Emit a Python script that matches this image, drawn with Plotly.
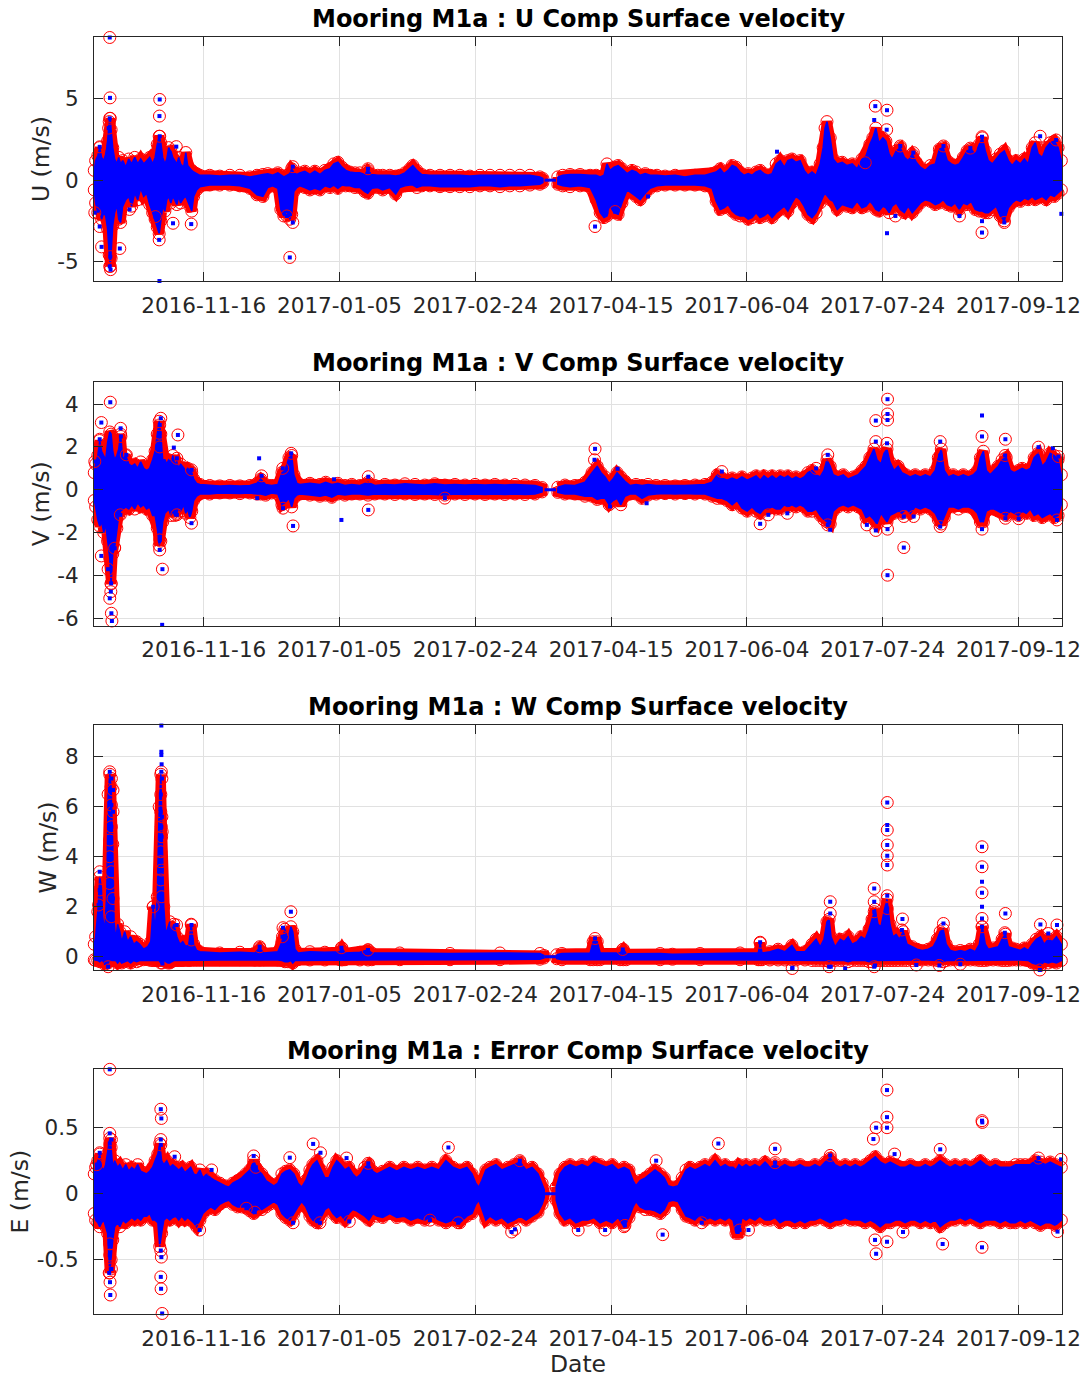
import pandas as pd
import plotly.graph_objects as go
from plotly.subplots import make_subplots

# ---------------------------------------------------------------------------
# Mooring M1a surface-bin ADCP velocities.
# Times are days elapsed since the start of the record.
# Each band row is (day, upper edge, lower edge) of the dense data cloud;
# isolated samples are listed separately (flagged ones are ringed in red).
# ---------------------------------------------------------------------------
record_start = pd.Timestamp("2016-10-06 14:00")
record_days = 356.45
record_gap = (165.9, 170.1)          # short stretch with no profiles

date_ticks = ["2016-11-16", "2017-01-05", "2017-02-24", "2017-04-15",
              "2017-06-04", "2017-07-24", "2017-09-12"]

u_band = [
    (0.1, 0.6, -0.6), (0.6, 1.2, -1.4), (1.4, 1.5, -2.0), (2.1, 2.0, -1.8),
    (2.8, 1.4, -2.4), (3.6, 1.2, -2.0), (4.3, 1.6, -2.2), (5.0, 2.4, -3.0),
    (5.6, 3.6, -4.6), (6.0, 3.8, -5.3), (6.3, 3.1, -4.8), (6.9, 2.0, -2.8),
    (7.6, 1.3, -2.0), (8.4, 1.0, -1.5), (9.1, 1.4, -2.4), (9.8, 1.0, -2.6),
    (10.6, 1.2, -1.6), (11.7, 0.8, -1.2), (12.8, 1.3, -1.0), (13.9, 1.0, -1.6),
    (15.0, 1.4, -0.8), (16.1, 1.0, -1.2), (17.2, 1.3, -0.5), (18.3, 1.0, -1.0),
    (19.4, 1.2, -0.8), (20.5, 1.4, -1.5), (21.6, 1.0, -2.0), (22.5, 1.4, -2.4),
    (23.3, 2.2, -2.9), (24.0, 2.7, -3.3), (24.6, 2.3, -2.5), (25.3, 1.4, -1.6),
    (26.1, 1.0, -1.9), (26.8, 1.3, -1.2), (27.5, 2.0, -1.0), (28.3, 1.8, -1.4),
    (29.0, 1.4, -1.0), (29.7, 1.2, -1.2), (30.5, 1.0, -1.5), (31.2, 1.4, -1.0),
    (31.9, 1.0, -1.4), (33.0, 0.8, -1.1), (33.8, 1.7, -1.0), (34.5, 0.9, -1.3),
    (35.3, 0.7, -1.6), (36.0, 0.6, -1.9), (36.7, 0.5, -1.0), (37.8, 0.4, -0.6),
    (39.0, 0.3, -0.4), (42.6, 0.3, -0.3), (46.3, 0.25, -0.3), (50.0, 0.3, -0.3),
    (53.7, 0.3, -0.35), (57.4, 0.2, -0.5), (60.0, 0.3, -0.9), (62.2, 0.35, -1.0),
    (64.0, 0.4, -0.45), (65.8, 0.3, -0.35), (67.7, 0.45, -0.5), (68.8, 0.3, -1.8),
    (69.9, 0.2, -2.2), (71.0, 0.3, -1.9), (72.1, 0.4, -2.4), (72.8, 0.7, -2.1),
    (73.6, 0.45, -0.7), (74.7, 0.35, -0.45), (75.8, 0.45, -0.35), (77.6, 0.55, -0.45),
    (79.5, 0.35, -0.6), (81.3, 0.55, -0.5), (83.2, 0.35, -0.6), (85.0, 0.6, -0.35),
    (86.9, 0.7, -0.45), (88.3, 1.0, -0.3), (89.8, 1.1, -0.5), (91.3, 0.8, -0.3),
    (92.7, 0.6, -0.35), (94.2, 0.5, -0.35), (96.1, 0.45, -0.45), (97.9, 0.45, -0.45),
    (99.7, 0.35, -0.7), (100.8, 0.6, -0.8), (102.3, 0.35, -0.5), (104.5, 0.3, -0.45),
    (106.3, 0.3, -0.6), (108.9, 0.3, -0.45), (111.1, 0.25, -0.85), (112.6, 0.3, -0.45),
    (114.5, 0.45, -0.35), (116.3, 0.7, -0.3), (117.4, 0.9, -0.3), (118.9, 0.6, -0.45),
    (120.7, 0.35, -0.35), (123.7, 0.3, -0.35), (127.4, 0.3, -0.4), (131.1, 0.3, -0.4),
    (134.7, 0.3, -0.4), (138.4, 0.25, -0.4), (142.1, 0.3, -0.35), (145.8, 0.3, -0.35),
    (149.5, 0.3, -0.4), (153.1, 0.3, -0.35), (156.8, 0.3, -0.35), (160.5, 0.3, -0.3),
    (164.2, 0.2, -0.25), (165.3, 0.1, -0.15),
    (170.8, 0.2, -0.25), (172.6, 0.3, -0.35), (175.3, 0.35, -0.4), (179.0, 0.35, -0.35),
    (182.7, 0.3, -0.45), (184.9, 0.3, -1.2), (186.4, 0.2, -2.0), (187.8, 0.3, -2.3),
    (188.9, 1.0, -2.2), (190.0, 0.6, -1.6), (191.5, 0.8, -2.0), (193.0, 0.9, -2.1),
    (194.4, 0.7, -1.4), (196.3, 0.4, -0.6), (198.1, 0.6, -0.8), (199.6, 0.5, -1.0),
    (201.1, 0.3, -1.2), (203.0, 0.4, -0.8), (204.8, 0.3, -0.5), (207.3, 0.3, -0.35),
    (210.3, 0.25, -0.3), (214.0, 0.3, -0.3), (217.6, 0.2, -0.3), (221.3, 0.3, -0.3),
    (225.0, 0.3, -0.35), (227.6, 0.4, -0.5), (229.1, 0.5, -1.3), (230.6, 0.7, -1.8),
    (232.0, 0.4, -1.7), (233.5, 0.6, -1.5), (235.0, 0.9, -1.9), (236.4, 0.8, -2.1),
    (237.9, 0.5, -2.2), (239.4, 0.3, -2.2), (240.9, 0.4, -2.4), (242.3, 0.3, -2.3),
    (243.8, 0.5, -2.0), (245.3, 0.6, -2.3), (246.7, 0.4, -2.2), (248.2, 0.3, -2.0),
    (249.7, 0.4, -2.3), (251.2, 1.0, -2.0), (252.7, 1.2, -1.8), (254.2, 0.8, -1.6),
    (255.5, 1.2, -1.9), (257.0, 1.3, -1.4), (258.5, 1.1, -1.0), (260.0, 1.2, -1.2),
    (261.5, 0.6, -1.6), (262.9, 0.3, -2.1), (264.4, 0.5, -2.3), (265.9, 0.3, -2.0),
    (267.4, 1.0, -1.4), (268.5, 2.0, -1.0), (269.2, 3.2, -0.8), (269.9, 3.6, -0.9),
    (271.1, 2.6, -1.2), (272.2, 1.3, -1.3), (273.7, 1.0, -1.8), (275.5, 1.1, -1.5),
    (277.3, 0.9, -1.6), (279.2, 1.0, -1.7), (281.0, 0.7, -1.3), (282.8, 1.3, -1.7),
    (284.3, 1.5, -1.6), (285.7, 2.2, -1.3), (286.8, 2.6, -1.5), (287.9, 3.2, -1.8),
    (289.0, 2.3, -1.9), (290.5, 2.6, -1.6), (291.6, 2.4, -1.7), (292.8, 1.6, -2.0),
    (293.9, 1.3, -1.6), (295.4, 1.8, -1.4), (296.9, 2.0, -1.8), (298.4, 1.4, -2.0),
    (299.8, 1.2, -1.6), (301.3, 1.6, -2.0), (302.8, 1.1, -1.7), (304.3, 0.8, -1.4),
    (306.1, 0.6, -1.2), (308.0, 0.9, -1.3), (309.8, 1.0, -1.5), (311.3, 1.9, -1.4),
    (312.7, 2.0, -1.2), (314.2, 1.2, -1.5), (315.7, 1.0, -1.6), (317.1, 0.9, -1.4),
    (318.6, 1.0, -1.8), (320.1, 1.4, -1.4), (321.5, 1.8, -1.5), (323.0, 1.9, -1.3),
    (324.5, 1.6, -1.8), (326.0, 2.2, -1.9), (327.1, 2.6, -1.9), (328.2, 1.8, -2.0),
    (329.3, 1.2, -2.0), (330.8, 1.0, -1.8), (332.2, 1.3, -1.6), (333.7, 1.6, -2.2),
    (335.2, 1.8, -2.5), (336.7, 1.2, -1.7), (338.1, 0.9, -1.4), (339.6, 1.2, -1.2),
    (341.1, 1.0, -1.3), (342.6, 1.3, -1.1), (344.0, 1.0, -1.2), (345.5, 2.0, -1.0),
    (346.6, 2.3, -1.2), (347.7, 1.6, -1.1), (349.2, 1.4, -1.0), (350.6, 2.0, -1.2),
    (352.1, 2.3, -0.9), (353.6, 2.4, -1.0), (355.0, 2.0, -0.8), (356.2, 1.2, -0.6),
]
u_flagged = [
    (5.8, 8.77), (5.9, 5.06), (5.8, 3.8), (5.4, 3.2), (2.1, 2.05), (0.3, -2.0),
    (2.1, -2.85), (2.8, -4.1), (5.8, -5.3), (6.0, -4.7), (6.1, -5.5), (9.5, -4.2),
    (24.2, 4.96), (24.1, 3.94), (24.2, 2.7), (24.0, -3.67), (22.6, -2.24),
    (29.1, -2.65), (30.3, 2.06), (35.8, -2.7), (13.1, -1.8), (72.1, -4.75),
    (73.2, 0.83), (73.2, -2.6), (71.0, -2.2), (100.9, 0.7), (184.5, -2.85),
    (191.9, -1.93), (287.7, 4.55), (292.0, 4.3), (291.9, 3.1), (284.0, 1.07),
    (296.9, 2.1), (301.7, 1.69), (295.1, -2.2), (312.8, 2.1), (318.7, -2.2),
    (322.7, 1.97), (327.0, 2.67), (327.0, -3.22), (335.2, -2.6), (348.4, 2.7),
    (354.3, 2.47),
]
u_unflagged = [
    (24.1, -6.2), (251.5, 1.75), (292.0, -3.26), (287.3, 3.7), (327.0, -2.52),
    (356.2, -2.07), (204.0, -1.0),
]

v_band = [
    (0.1, 0.8, -0.5), (0.6, 1.2, -0.8), (1.4, 1.6, -1.4), (2.1, 2.3, -1.7),
    (2.8, 1.8, -1.5), (3.6, 1.6, -2.0), (4.3, 1.4, -1.6), (5.0, 2.2, -2.4),
    (5.8, 2.7, -3.2), (6.3, 2.6, -4.4), (6.9, 1.8, -3.0), (7.6, 1.4, -2.7),
    (8.4, 1.6, -1.8), (9.1, 1.9, -1.2), (9.8, 2.6, -1.0), (10.6, 1.4, -0.9),
    (11.7, 1.6, -0.8), (12.8, 1.2, -0.9), (13.9, 1.1, -0.7), (15.0, 1.2, -0.9),
    (16.1, 1.0, -0.6), (17.2, 1.3, -0.8), (18.3, 1.0, -0.7), (19.4, 0.9, -0.9),
    (20.5, 1.0, -0.8), (21.6, 1.4, -1.2), (22.5, 1.8, -1.2), (23.3, 2.6, -1.8),
    (24.0, 3.2, -2.6), (24.6, 2.6, -2.4), (25.3, 1.4, -1.5), (26.1, 1.4, -1.1),
    (26.8, 1.2, -1.0), (27.5, 1.4, -0.9), (28.3, 1.3, -1.2), (29.0, 1.6, -1.0),
    (29.7, 1.2, -1.2), (30.5, 1.3, -1.1), (31.2, 1.0, -0.8), (31.9, 1.2, -1.0),
    (33.0, 1.0, -0.7), (33.8, 0.9, -1.1), (34.5, 1.0, -0.9), (35.3, 0.9, -1.3),
    (36.0, 0.8, -1.0), (36.7, 0.5, -0.5), (37.8, 0.3, -0.3), (39.0, 0.25, -0.2),
    (42.6, 0.2, -0.2), (46.3, 0.18, -0.15), (50.0, 0.2, -0.15), (53.7, 0.18, -0.18),
    (57.4, 0.2, -0.15), (60.0, 0.3, -0.2), (61.4, 0.5, -0.2), (63.2, 0.25, -0.25),
    (65.4, 0.2, -0.15), (67.7, 0.25, -0.2), (69.2, 0.8, -0.7), (70.3, 0.9, -0.6),
    (71.8, 1.5, -0.4), (72.8, 1.6, -0.8), (73.6, 0.7, -0.4), (74.7, 0.3, -0.25),
    (75.8, 0.25, -0.2), (79.5, 0.3, -0.25), (83.2, 0.25, -0.3), (85.3, 0.35, -0.25),
    (87.6, 0.25, -0.35), (89.8, 0.3, -0.2), (92.4, 0.2, -0.25), (94.9, 0.25, -0.2),
    (97.9, 0.2, -0.2), (100.9, 0.35, -0.25), (103.4, 0.2, -0.2), (107.1, 0.25, -0.2),
    (110.8, 0.22, -0.22), (114.5, 0.28, -0.2), (118.2, 0.25, -0.22), (121.8, 0.22, -0.2),
    (125.5, 0.28, -0.22), (129.2, 0.22, -0.25), (132.9, 0.25, -0.2), (136.6, 0.22, -0.22),
    (140.3, 0.25, -0.2), (144.0, 0.22, -0.22), (147.6, 0.25, -0.2), (151.3, 0.22, -0.22),
    (155.0, 0.25, -0.2), (158.7, 0.22, -0.22), (162.4, 0.2, -0.2), (165.0, 0.1, -0.1),
    (170.8, 0.12, -0.12), (173.4, 0.22, -0.2), (177.1, 0.2, -0.2), (180.8, 0.35, -0.3),
    (183.4, 0.8, -0.3), (185.3, 1.1, -0.45), (186.7, 0.8, -0.4), (188.2, 0.6, -0.4),
    (189.7, 0.3, -0.7), (191.1, 0.5, -0.5), (192.6, 0.8, -0.4), (194.0, 0.6, -0.7),
    (195.5, 0.4, -0.3), (197.4, 0.2, -0.2), (199.6, 0.25, -0.2), (201.8, 0.2, -0.4),
    (204.0, 0.25, -0.25), (207.0, 0.2, -0.2), (210.3, 0.2, -0.18), (214.0, 0.18, -0.2),
    (217.6, 0.2, -0.18), (221.3, 0.22, -0.2), (225.0, 0.25, -0.2), (227.6, 0.35, -0.3),
    (229.5, 0.7, -0.4), (231.2, 0.55, -0.4), (233.1, 0.45, -0.5), (235.0, 0.55, -0.7),
    (236.8, 0.45, -0.5), (238.6, 0.6, -0.85), (240.5, 0.45, -1.0), (242.3, 0.55, -0.8),
    (243.8, 0.65, -1.0), (245.3, 0.45, -1.1), (246.7, 0.65, -0.9), (248.2, 0.5, -0.9),
    (249.7, 0.65, -0.8), (251.2, 0.5, -0.9), (252.7, 0.65, -0.9), (254.2, 0.55, -0.7),
    (255.5, 0.65, -0.8), (257.0, 0.5, -0.7), (258.5, 0.6, -0.8), (260.0, 0.5, -0.7),
    (261.5, 0.6, -0.8), (262.9, 0.8, -1.0), (264.4, 0.9, -1.0), (265.9, 0.7, -0.9),
    (267.4, 0.6, -1.2), (268.8, 0.9, -1.4), (269.9, 1.4, -1.5), (271.1, 1.1, -1.6),
    (272.2, 0.7, -1.0), (274.0, 0.6, -0.8), (275.9, 0.7, -0.7), (277.7, 0.5, -0.8),
    (279.6, 0.6, -0.7), (281.4, 0.7, -0.8), (282.8, 0.9, -0.9), (284.3, 1.1, -1.3),
    (285.7, 1.5, -1.2), (287.2, 1.9, -1.4), (288.3, 1.4, -1.6), (289.8, 1.2, -1.1),
    (290.9, 1.7, -1.3), (292.0, 1.9, -1.5), (293.1, 1.3, -1.2), (294.6, 0.9, -1.1),
    (296.1, 1.1, -1.0), (297.5, 0.8, -1.1), (299.0, 0.7, -0.9), (300.5, 0.6, -1.1),
    (302.4, 0.7, -0.8), (304.3, 0.6, -0.9), (306.1, 0.7, -0.8), (308.0, 0.6, -0.9),
    (309.8, 0.9, -1.1), (310.9, 1.5, -1.4), (312.0, 1.9, -1.6), (313.1, 0.9, -1.3),
    (314.6, 0.6, -0.8), (316.4, 0.7, -0.8), (318.3, 0.6, -0.9), (320.1, 0.7, -0.8),
    (322.0, 0.6, -0.8), (323.8, 0.7, -0.9), (325.3, 0.9, -1.1), (326.4, 1.5, -1.5),
    (327.5, 1.8, -1.5), (328.6, 0.9, -1.0), (330.0, 0.7, -0.9), (331.5, 0.9, -0.9),
    (333.0, 1.1, -1.0), (334.4, 1.4, -1.1), (335.9, 1.5, -1.2), (337.4, 0.9, -1.0),
    (338.9, 0.8, -1.1), (340.4, 0.9, -1.2), (341.8, 1.0, -1.0), (343.3, 0.9, -1.1),
    (344.8, 1.0, -0.9), (346.2, 1.5, -1.2), (347.7, 1.7, -1.1), (349.2, 1.1, -1.3),
    (350.6, 1.3, -1.2), (352.1, 1.7, -1.1), (353.6, 1.6, -1.3), (355.0, 1.4, -1.2),
    (356.2, 0.7, -0.7),
]
v_flagged = [
    (6.0, 4.09), (2.7, 3.14), (2.1, 2.36), (0.3, 1.32), (9.8, 2.87), (9.9, 2.49),
    (11.9, 1.63), (6.6, -6.13), (6.4, -5.77), (5.8, -5.07), (6.3, -4.37),
    (6.2, -4.76), (5.2, -3.71), (2.7, -3.09), (7.6, -2.73), (9.7, -1.17),
    (24.6, 3.34), (24.2, 3.03), (24.2, 2.64), (24.2, 2.0), (25.2, -3.71),
    (24.2, -2.81), (24.2, -2.34), (30.9, 2.56), (30.5, 1.47), (30.5, -1.17),
    (35.9, 0.93), (35.9, -1.56), (61.7, 0.65), (73.3, -1.69), (69.6, -0.86),
    (72.6, 1.7), (69.5, 1.0), (101.0, 0.61), (101.0, -0.94), (184.5, 1.91),
    (184.3, 1.40), (129.2, -0.39), (245.3, -1.59), (231.2, 0.85), (248.3, -1.17),
    (255.3, -1.1), (265.9, 1.0), (270.2, 1.63), (270.2, -1.64), (287.9, 3.23),
    (287.9, 2.25), (287.9, -1.9), (292.2, 4.23), (292.2, 3.54), (292.2, 3.26),
    (292.0, 2.17), (292.2, -1.84), (292.2, -3.99), (298.2, -2.70), (284.6, -1.64),
    (298.2, -1.25), (301.8, -1.25), (311.6, 2.25), (311.6, 1.6), (311.6, -1.72),
    (327.0, 5.09), (327.0, 2.49), (327.0, -1.84), (335.6, 2.36), (335.5, 1.6),
    (335.6, -1.33), (340.5, -1.35), (347.8, 1.99), (354.6, -1.41), (355.1, 1.55),
]
v_unflagged = [
    (25.1, -6.31), (29.4, 1.97), (60.8, 1.47), (60.1, -0.39), (88.4, 0.49),
    (91.1, -1.41), (327.0, 3.47), (353.1, 1.94), (203.5, -0.63), (190.0, -0.78),
    (192.8, 0.98), (271.1, -1.87),
]

w_band = [
    (0.1, 0.5, -0.12), (0.6, 0.8, -0.15), (1.4, 1.8, -0.15), (2.1, 3.2, -0.2),
    (2.7, 2.8, -0.15), (3.2, 1.6, -0.15), (3.9, 1.0, -0.3), (4.7, 2.5, -0.25),
    (5.2, 6.5, -0.25), (5.8, 7.3, -0.15), (6.3, 6.8, -0.15), (6.9, 4.5, -0.15),
    (7.4, 1.4, -0.15), (8.0, 0.7, -0.15), (8.7, 1.3, -0.25), (9.5, 1.0, -0.15),
    (10.2, 0.6, -0.25), (11.3, 1.0, -0.2), (12.4, 0.6, -0.15), (13.5, 0.8, -0.25),
    (14.6, 0.5, -0.15), (15.7, 0.6, -0.2), (16.8, 0.5, -0.15), (18.3, 0.3, -0.12),
    (19.8, 0.4, -0.12), (20.9, 0.6, -0.15), (21.8, 2.0, -0.15), (22.5, 1.0, -0.15),
    (23.3, 2.4, -0.15), (24.0, 6.0, -0.15), (24.6, 7.3, -0.25), (25.1, 5.0, -0.25),
    (25.7, 2.0, -0.15), (26.4, 0.9, -0.2), (27.2, 1.2, -0.25), (27.9, 1.4, -0.25),
    (28.6, 1.0, -0.2), (29.4, 1.3, -0.15), (30.5, 0.8, -0.15), (31.6, 0.5, -0.15),
    (32.7, 0.6, -0.15), (33.8, 0.4, -0.12), (34.9, 0.5, -0.15), (35.8, 1.3, -0.12),
    (36.7, 0.5, -0.12), (37.8, 0.25, -0.12), (39.0, 0.2, -0.12), (46.3, 0.15, -0.12),
    (53.7, 0.18, -0.12), (59.2, 0.15, -0.13), (61.0, 0.35, -0.13), (62.5, 0.15, -0.12),
    (67.7, 0.2, -0.13), (69.2, 0.6, -0.15), (70.3, 1.1, -0.2), (71.4, 0.7, -0.2),
    (72.5, 1.2, -0.15), (73.2, 1.0, -0.25), (74.0, 0.3, -0.15), (75.1, 0.15, -0.12),
    (79.5, 0.2, -0.13), (85.0, 0.18, -0.13), (90.5, 0.2, -0.12), (91.3, 0.35, -0.13),
    (92.4, 0.15, -0.12), (97.9, 0.18, -0.13), (100.9, 0.28, -0.13), (102.3, 0.15, -0.12),
    (112.6, 0.15, -0.12), (131.1, 0.13, -0.12), (149.5, 0.15, -0.12), (164.2, 0.13, -0.1),
    (165.7, 0.05, -0.05),
    (170.4, 0.08, -0.08), (172.3, 0.13, -0.12), (182.7, 0.15, -0.12), (183.8, 0.6, -0.12),
    (185.3, 0.6, -0.12), (186.4, 0.15, -0.12), (193.7, 0.15, -0.12), (194.9, 0.3, -0.12),
    (196.0, 0.12, -0.12), (208.5, 0.13, -0.12), (213.0, 0.1, -0.1), (223.2, 0.13, -0.12),
    (237.9, 0.15, -0.12), (244.6, 0.15, -0.12), (245.3, 0.55, -0.12), (246.0, 0.15, -0.12),
    (248.9, 0.2, -0.13), (251.9, 0.3, -0.13), (254.4, 0.2, -0.13), (257.0, 0.45, -0.13),
    (258.5, 0.2, -0.13), (261.8, 0.2, -0.13), (264.4, 0.5, -0.15), (265.9, 0.7, -0.15),
    (267.4, 0.4, -0.15), (268.8, 0.7, -0.15), (269.9, 1.4, -0.15), (270.7, 1.5, -0.2),
    (271.4, 0.8, -0.15), (272.9, 0.4, -0.15), (274.8, 0.7, -0.15), (276.2, 0.6, -0.15),
    (277.7, 0.8, -0.2), (279.2, 0.5, -0.15), (281.0, 0.6, -0.15), (282.5, 0.8, -0.15),
    (284.0, 0.7, -0.15), (285.4, 1.1, -0.2), (286.5, 1.5, -0.2), (287.6, 1.9, -0.15),
    (288.7, 1.3, -0.15), (289.8, 1.2, -0.15), (290.9, 1.8, -0.15), (292.0, 2.3, -0.15),
    (293.1, 1.3, -0.15), (294.2, 0.8, -0.15), (295.4, 0.9, -0.15), (296.5, 0.7, -0.15),
    (298.0, 1.0, -0.15), (299.4, 0.5, -0.15), (301.3, 0.4, -0.15), (303.1, 0.3, -0.13),
    (305.0, 0.25, -0.13), (307.2, 0.3, -0.13), (309.0, 0.4, -0.13), (310.5, 0.7, -0.15),
    (311.6, 1.0, -0.15), (312.7, 1.1, -0.2), (313.8, 0.5, -0.15), (315.3, 0.25, -0.13),
    (317.1, 0.2, -0.13), (319.0, 0.25, -0.13), (320.8, 0.2, -0.13), (322.7, 0.3, -0.13),
    (324.5, 0.2, -0.13), (326.0, 0.5, -0.15), (327.1, 1.2, -0.15), (328.2, 0.5, -0.15),
    (329.3, 0.3, -0.13), (331.1, 0.35, -0.13), (333.0, 0.4, -0.13), (334.4, 0.7, -0.15),
    (335.6, 0.9, -0.15), (336.7, 0.4, -0.15), (338.1, 0.35, -0.13), (339.6, 0.3, -0.13),
    (341.1, 0.25, -0.13), (342.6, 0.35, -0.13), (344.0, 0.25, -0.15), (345.5, 0.5, -0.25),
    (347.0, 0.7, -0.3), (348.5, 0.8, -0.35), (349.9, 0.5, -0.2), (351.4, 0.7, -0.25),
    (352.9, 0.6, -0.2), (354.4, 0.8, -0.25), (356.2, 0.5, -0.15),
]
w_flagged = [
    (2.1, 3.4), (2.1, 2.67), (1.7, 2.07), (5.8, 7.4), (6.4, 7.13), (7.0, 6.67),
    (6.4, 6.07), (7.0, 5.8), (6.4, 5.2), (5.8, 4.67), (5.8, 4.0), (6.4, 3.4),
    (5.8, 2.93), (7.0, 2.33), (6.4, 1.6), (5.2, -0.4), (21.8, 2.0), (24.8, 7.4),
    (25.0, 7.13), (24.6, 6.49), (24.6, 5.8), (25.0, 5.6), (24.8, 5.2), (24.9, 4.8),
    (24.6, 4.2), (24.6, 3.8), (24.9, 3.47), (24.6, 3.07), (24.9, 2.4), (30.4, 1.27),
    (35.9, 1.27), (35.9, 0.67), (72.5, 1.8), (69.6, 1.16), (69.4, 0.8), (61.0, 0.4),
    (91.1, 0.36), (100.9, 0.27), (184.5, 0.73), (194.7, 0.29), (245.3, 0.58),
    (257.1, -0.47), (271.1, 2.2), (271.1, 1.73), (270.7, -0.4), (287.3, 2.73),
    (287.3, 2.2), (287.3, 1.8), (292.1, 6.17), (292.1, 5.07), (292.1, 4.47),
    (292.1, 4.04), (292.1, 3.67), (292.1, 2.44), (292.1, 1.93), (287.3, -0.4),
    (297.7, 1.51), (297.5, 1.07), (302.8, -0.33), (312.8, 1.33), (311.3, -0.35),
    (319.0, -0.3), (327.0, 4.4), (327.0, 3.6), (327.0, 2.56), (327.0, 1.53),
    (327.0, 1.2), (335.6, 1.73), (335.4, 0.96), (348.5, 1.29), (348.3, -0.53),
    (354.6, 1.27), (351.4, 0.93),
]
w_unflagged = [
    (24.8, 9.25), (24.8, 8.2), (24.8, 8.07), (24.9, 7.7), (25.2, -0.27),
    (292.1, 5.27), (327.0, 3.0), (327.0, 2.0), (257.2, -0.44), (271.3, -0.4),
    (276.6, -0.47), (287.6, -0.35),
]

e_band = [
    (0.1, 0.15, -0.15), (0.6, 0.2, -0.2), (1.4, 0.25, -0.22), (2.1, 0.3, -0.25),
    (2.8, 0.2, -0.22), (3.6, 0.18, -0.2), (4.3, 0.22, -0.25), (5.0, 0.3, -0.3),
    (5.8, 0.42, -0.6), (6.3, 0.35, -0.5), (6.9, 0.2, -0.35), (7.6, 0.25, -0.25),
    (8.7, 0.2, -0.22), (9.5, 0.22, -0.25), (10.6, 0.18, -0.2), (11.7, 0.22, -0.22),
    (12.8, 0.17, -0.2), (13.9, 0.2, -0.18), (15.0, 0.18, -0.2), (16.1, 0.22, -0.18),
    (17.2, 0.17, -0.2), (18.3, 0.16, -0.17), (19.4, 0.15, -0.17), (20.5, 0.17, -0.15),
    (21.6, 0.2, -0.2), (22.5, 0.25, -0.2), (23.5, 0.3, -0.22), (24.2, 0.38, -0.4),
    (24.9, 0.25, -0.3), (25.7, 0.22, -0.2), (26.8, 0.25, -0.18), (27.9, 0.2, -0.2),
    (29.0, 0.22, -0.18), (30.1, 0.2, -0.17), (31.2, 0.18, -0.2), (32.3, 0.2, -0.17),
    (33.5, 0.16, -0.2), (34.5, 0.18, -0.18), (35.6, 0.2, -0.2), (36.7, 0.15, -0.22),
    (37.8, 0.14, -0.25), (39.0, 0.18, -0.2), (40.1, 0.12, -0.15), (41.6, 0.15, -0.12),
    (43.0, 0.12, -0.1), (44.5, 0.1, -0.12), (46.3, 0.08, -0.08), (48.2, 0.06, -0.06),
    (49.7, 0.05, -0.05), (51.1, 0.08, -0.08), (52.9, 0.1, -0.1), (54.4, 0.12, -0.1),
    (55.9, 0.15, -0.1), (57.4, 0.18, -0.13), (58.8, 0.25, -0.15), (60.3, 0.18, -0.12),
    (61.8, 0.15, -0.12), (63.3, 0.1, -0.1), (64.7, 0.08, -0.08), (66.2, 0.06, -0.06),
    (67.7, 0.08, -0.08), (69.2, 0.15, -0.15), (70.6, 0.17, -0.18), (72.1, 0.18, -0.2),
    (73.6, 0.15, -0.15), (75.1, 0.08, -0.1), (76.5, 0.05, -0.06), (78.0, 0.1, -0.1),
    (79.5, 0.18, -0.17), (80.6, 0.22, -0.2), (82.1, 0.25, -0.22), (83.6, 0.18, -0.18),
    (85.0, 0.12, -0.12), (86.5, 0.12, -0.1), (88.0, 0.2, -0.15), (89.4, 0.25, -0.18),
    (90.9, 0.22, -0.16), (92.4, 0.18, -0.2), (93.8, 0.2, -0.15), (95.3, 0.15, -0.12),
    (96.7, 0.12, -0.13), (98.3, 0.15, -0.15), (99.7, 0.2, -0.17), (101.2, 0.22, -0.2),
    (102.7, 0.17, -0.15), (104.2, 0.15, -0.17), (106.3, 0.17, -0.18), (108.9, 0.2, -0.15),
    (111.5, 0.17, -0.18), (114.1, 0.2, -0.17), (116.7, 0.18, -0.2), (119.2, 0.2, -0.18),
    (121.8, 0.18, -0.2), (124.4, 0.2, -0.17), (127.0, 0.18, -0.2), (129.6, 0.25, -0.22),
    (132.2, 0.2, -0.2), (134.7, 0.18, -0.22), (137.3, 0.2, -0.17), (139.2, 0.15, -0.15),
    (140.6, 0.08, -0.08), (141.7, 0.05, -0.05), (142.8, 0.1, -0.12), (144.3, 0.18, -0.2),
    (145.8, 0.2, -0.17), (148.0, 0.22, -0.2), (150.2, 0.18, -0.18), (152.4, 0.2, -0.22),
    (154.7, 0.22, -0.2), (156.9, 0.24, -0.17), (159.1, 0.18, -0.2), (161.3, 0.2, -0.17),
    (163.5, 0.15, -0.14), (165.0, 0.08, -0.08), (165.8, 0.03, -0.03),
    (170.2, 0.05, -0.05), (171.6, 0.15, -0.15), (173.4, 0.2, -0.2), (175.3, 0.22, -0.18),
    (177.5, 0.2, -0.22), (179.7, 0.22, -0.2), (181.9, 0.2, -0.2), (184.1, 0.24, -0.18),
    (186.4, 0.22, -0.22), (188.6, 0.2, -0.2), (190.8, 0.22, -0.22), (193.0, 0.18, -0.18),
    (195.2, 0.2, -0.25), (197.0, 0.18, -0.18), (198.5, 0.1, -0.1), (199.6, 0.06, -0.06),
    (201.1, 0.1, -0.1), (203.0, 0.12, -0.12), (204.8, 0.15, -0.12), (206.6, 0.18, -0.13),
    (208.5, 0.15, -0.15), (210.0, 0.12, -0.12), (211.4, 0.06, -0.06), (213.2, 0.05, -0.05),
    (215.1, 0.06, -0.06), (216.6, 0.12, -0.12), (218.0, 0.18, -0.17), (219.5, 0.2, -0.18),
    (221.3, 0.18, -0.2), (223.2, 0.2, -0.17), (225.0, 0.22, -0.2), (226.8, 0.2, -0.18),
    (228.7, 0.25, -0.2), (230.6, 0.2, -0.18), (232.4, 0.22, -0.2), (233.9, 0.2, -0.18),
    (235.3, 0.2, -0.2), (236.4, 0.18, -0.3), (237.5, 0.22, -0.3), (238.6, 0.2, -0.18),
    (240.1, 0.22, -0.2), (241.5, 0.2, -0.18), (243.4, 0.22, -0.2), (245.2, 0.2, -0.17),
    (247.1, 0.24, -0.2), (249.0, 0.2, -0.2), (250.8, 0.22, -0.18), (252.6, 0.2, -0.22),
    (254.4, 0.22, -0.2), (256.3, 0.2, -0.2), (258.1, 0.2, -0.22), (260.0, 0.22, -0.2),
    (261.8, 0.2, -0.22), (263.6, 0.2, -0.2), (265.5, 0.22, -0.2), (267.4, 0.2, -0.18),
    (269.2, 0.24, -0.2), (271.1, 0.27, -0.22), (272.9, 0.22, -0.2), (274.8, 0.2, -0.2),
    (276.6, 0.22, -0.18), (278.5, 0.2, -0.2), (280.3, 0.22, -0.2), (282.2, 0.2, -0.2),
    (284.0, 0.22, -0.22), (285.9, 0.25, -0.2), (287.7, 0.28, -0.22), (289.5, 0.24, -0.25),
    (291.4, 0.22, -0.22), (293.2, 0.24, -0.22), (295.1, 0.22, -0.2), (296.9, 0.2, -0.2),
    (298.7, 0.2, -0.22), (300.6, 0.22, -0.2), (302.4, 0.2, -0.2), (304.3, 0.2, -0.22),
    (306.1, 0.22, -0.2), (308.0, 0.2, -0.22), (309.8, 0.22, -0.2), (311.6, 0.25, -0.25),
    (313.5, 0.22, -0.22), (315.3, 0.2, -0.2), (317.1, 0.22, -0.2), (319.0, 0.2, -0.18),
    (320.8, 0.22, -0.2), (322.7, 0.2, -0.18), (324.5, 0.22, -0.2), (326.4, 0.25, -0.22),
    (328.2, 0.22, -0.2), (330.0, 0.2, -0.2), (331.9, 0.22, -0.2), (333.7, 0.2, -0.22),
    (335.6, 0.2, -0.2), (337.4, 0.2, -0.22), (339.3, 0.22, -0.22), (341.1, 0.22, -0.2),
    (342.9, 0.22, -0.22), (344.8, 0.22, -0.2), (346.6, 0.25, -0.22), (348.5, 0.24, -0.24),
    (350.3, 0.22, -0.22), (352.1, 0.24, -0.22), (354.0, 0.22, -0.24), (356.2, 0.2, -0.2),
]
e_flagged = [
    (5.8, 0.942), (5.8, 0.457), (6.4, 0.41), (5.8, 0.38), (2.1, 0.31), (1.0, 0.22),
    (6.0, -0.767), (5.6, -0.6), (6.4, -0.57), (5.8, -0.465), (5.8, -0.38),
    (5.9, -0.67), (24.6, 0.64), (24.8, 0.57), (24.6, 0.41), (24.6, 0.37),
    (24.6, -0.43), (24.8, -0.48), (24.6, -0.63), (24.7, -0.72), (25.1, -0.907),
    (29.7, 0.28), (38.9, -0.275), (43.3, 0.18), (58.8, 0.286), (59.6, 0.2),
    (56.1, -0.11), (59.2, -0.14), (72.1, 0.273), (73.3, -0.22), (80.7, 0.377),
    (83.4, 0.31), (83.2, -0.22), (94.0, -0.21), (93.0, 0.27), (101.0, 0.23),
    (130.5, 0.35), (123.7, -0.2), (134.1, -0.22), (156.8, 0.25), (153.8, -0.29),
    (155.0, -0.27), (178.3, -0.275), (188.2, -0.275), (195.5, -0.24), (207.0, 0.25),
    (209.4, -0.31), (229.9, 0.38), (241.0, -0.275), (250.8, 0.34), (250.8, 0.235),
    (223.8, -0.22), (237.7, -0.275), (271.1, 0.29), (287.0, 0.414), (288.0, 0.5),
    (292.0, 0.5), (292.0, 0.58), (292.0, 0.785), (311.6, 0.336), (327.0, 0.553),
    (327.1, 0.54), (347.8, 0.27), (356.1, 0.26), (287.6, -0.35), (288.0, -0.455),
    (292.0, -0.364), (312.5, -0.381), (327.0, -0.406), (297.9, -0.29),
    (354.8, -0.287), (294.8, 0.3),
]
e_unflagged = []

panels = [
    dict(title="Mooring M1a : U Comp Surface velocity", ylabel="U (m/s)",
         band=u_band, flagged=u_flagged, unflagged=u_unflagged,
         yrange=[-6.2, 8.8], yticks=[-5, 0, 5]),
    dict(title="Mooring M1a : V Comp Surface velocity", ylabel="V (m/s)",
         band=v_band, flagged=v_flagged, unflagged=v_unflagged,
         yrange=[-6.35, 5.05], yticks=[-6, -4, -2, 0, 2, 4]),
    dict(title="Mooring M1a : W Comp Surface velocity", ylabel="W (m/s)",
         band=w_band, flagged=w_flagged, unflagged=w_unflagged,
         yrange=[-0.53, 9.27], yticks=[0, 2, 4, 6, 8]),
    dict(title="Mooring M1a : Error Comp Surface velocity", ylabel="E (m/s)",
         band=e_band, flagged=e_flagged, unflagged=e_unflagged,
         yrange=[-0.911, 0.942], yticks=[-0.5, 0, 0.5]),
]

# vertical placement of the four axes (fractions of the plotting area)
domains = [(0.8089, 1.0), (0.5390, 0.7301), (0.2694, 0.4612), (0.0, 0.1916)]
title_y = [1.0141, 0.7447, 0.4753, 0.2059]

FONT = "DejaVu Sans"
INK = "#262626"
RED = "#ff0000"
BLUE = "#0000ff"
TICK_SIZE = 21.5


def to_time(days):
    return record_start + pd.to_timedelta(list(days), unit="D")


def band_polygons(band):
    """Closed outlines of the data cloud, one per continuous stretch."""
    xs, ys = [], []
    segments = [[r for r in band if r[0] <= record_gap[0]],
                [r for r in band if r[0] >= record_gap[1]]]
    for seg in segments:
        days = [r[0] for r in seg]
        hi = [r[1] for r in seg]
        lo = [r[2] for r in seg]
        ring_days = days + days[::-1] + [days[0]]
        ring_vals = hi + lo[::-1] + [hi[0]]
        xs += list(to_time(ring_days)) + [None]
        ys += ring_vals + [None]
    return xs[:-1], ys[:-1]


fig = make_subplots(rows=4, cols=1)

for i, p in enumerate(panels, start=1):
    px, py = band_polygons(p["band"])
    # red rim of the cloud (circle markers hugging the outer samples)
    fig.add_trace(go.Scatter(x=px, y=py, mode="lines",
                             line=dict(color=RED, width=10),
                             hoverinfo="skip", showlegend=False), row=i, col=1)
    edge_days = [r[0] for r in p["band"]] * 2
    edge_vals = [r[1] for r in p["band"]] + [r[2] for r in p["band"]]
    fig.add_trace(go.Scatter(x=to_time(edge_days), y=edge_vals, mode="markers",
                             marker=dict(symbol="circle-open", size=12,
                                         color=RED, line=dict(width=1)),
                             cliponaxis=False, hoverinfo="skip",
                             showlegend=False), row=i, col=1)
    # dense blue core of the samples
    fig.add_trace(go.Scatter(x=px, y=py, mode="lines", fill="toself",
                             fillcolor=BLUE, line=dict(color=BLUE, width=1.5),
                             hoverinfo="skip", showlegend=False), row=i, col=1)
    # quiet stretch across the record gap
    fig.add_trace(go.Scatter(x=to_time(record_gap), y=[0, 0], mode="lines",
                             line=dict(color=BLUE, width=3),
                             hoverinfo="skip", showlegend=False), row=i, col=1)
    # isolated samples
    if p["flagged"]:
        fig.add_trace(go.Scatter(
            x=to_time([d for d, _ in p["flagged"]]),
            y=[v for _, v in p["flagged"]], mode="markers",
            marker=dict(symbol="circle-open", size=12, color=RED,
                        line=dict(width=1)),
            cliponaxis=False, showlegend=False), row=i, col=1)
    singles = p["flagged"] + p["unflagged"]
    fig.add_trace(go.Scatter(
        x=to_time([d for d, _ in singles]), y=[v for _, v in singles],
        mode="markers", marker=dict(symbol="square", size=4, color=BLUE,
                                    line=dict(width=0)),
        cliponaxis=False, showlegend=False), row=i, col=1)

    fig.update_xaxes(
        row=i, col=1, automargin=False,
        range=[record_start, record_start + pd.Timedelta(days=record_days)],
        tickvals=date_ticks, ticktext=date_ticks,
        showgrid=True, gridcolor="#e1e1e1", gridwidth=1,
        showline=True, linecolor=INK, linewidth=1, mirror="ticks",
        ticks="inside", ticklen=9, tickcolor=INK, tickwidth=1,
        tickfont=dict(family=FONT, size=TICK_SIZE, color=INK),
        ticklabelstandoff=5, zeroline=False)
    fig.update_yaxes(
        row=i, col=1, automargin=False,
        domain=list(domains[i - 1]), range=p["yrange"],
        tickvals=p["yticks"], ticktext=[f"{v:g}" for v in p["yticks"]],
        showgrid=True, gridcolor="#e1e1e1", gridwidth=1,
        showline=True, linecolor=INK, linewidth=1, mirror="ticks",
        ticks="inside", ticklen=9, tickcolor=INK, tickwidth=1,
        tickfont=dict(family=FONT, size=TICK_SIZE, color=INK),
        ticklabelstandoff=10, zeroline=False,
        title=dict(text=p["ylabel"], standoff=1,
                   font=dict(family=FONT, size=23.5, color=INK)))
    fig.add_annotation(text=p["title"], xref="paper", yref="paper",
                       x=0.5, y=title_y[i - 1], xanchor="center",
                       yanchor="middle", showarrow=False,
                       font=dict(family=FONT, size=24, color="black",
                                 weight="bold"))

fig.update_xaxes(row=4, col=1,
                 title=dict(text="Date", standoff=12,
                            font=dict(family=FONT, size=23.5, color=INK)))

fig.update_layout(
    width=1086, height=1378,
    margin=dict(l=94, r=24, t=37, b=64, autoexpand=False),
    paper_bgcolor="white", plot_bgcolor="white",
    showlegend=False,
)

fig.write_html("out.html")
